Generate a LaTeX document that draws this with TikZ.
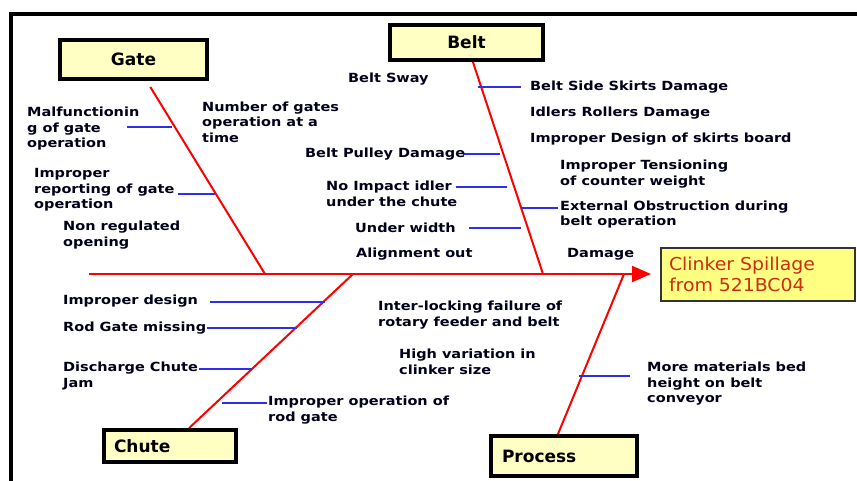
\documentclass[tikz,border=0pt]{standalone}
\usepackage{fontspec}
\setmainfont{DejaVu Sans}
\newfontfamily\causefont{DejaVu Sans}[FakeStretch=1.15]
\newfontfamily\effectfont{DejaVu Sans}[FakeStretch=1.06]
\usetikzlibrary{arrows.meta}
\usetikzlibrary{calc}

\definecolor{boxyellow}{RGB}{255,255,196}
\definecolor{effectyellow}{RGB}{255,255,130}
\definecolor{effectred}{RGB}{205,45,20}
\definecolor{twigblue}{RGB}{45,45,235}

\begin{document}
\begin{tikzpicture} [x=1pt, y=-1pt,
            bone/.style={red, line width=2pt},
            twig/.style={twigblue, line width=1.1pt},
            category/.style={draw=black, line width=4pt, fill=boxyellow,
                 font=\fontsize{17}{20}\selectfont\bfseries, inner sep=0pt},
            cause/.style={font=\causefont\fontsize{12.6}{15.5}\selectfont\bfseries,
                 align=left, anchor=west, inner sep=0pt, text=black!90!blue},
         >=stealth]
\useasboundingbox (0,0) rectangle (857,480);

% frame
\draw[line width=4pt] (11,490) -- (11,14) -- (870,14);

%effect
\node (effect) at (758,274.5) [draw=black!80, line width=2pt, fill=effectyellow,
     text width=178pt, inner xsep=8pt, minimum height=53pt, align=left,
     text=effectred, font=\effectfont\fontsize{17.8}{21}\selectfont]
     {Clinker Spillage\\from 521BC04};
\coordinate (tail) at (89,274);
\draw[bone, -{Triangle[length=19pt,width=16pt]}, shorten >=9pt] (tail) -- (effect.west |- tail);

%categories
\node (gate)    at (133.5,59.5) [category, minimum width=147pt, minimum height=39pt] {Gate};
\node (belt)    at (466.5,42.5) [category, minimum width=153pt, minimum height=35pt] {Belt};
\node (chute)   at (170,446)    [category, text width=112pt, inner xsep=10pt, minimum height=32pt, align=left] {Chute};
\node (process) at (564,456)    [category, text width=124pt, inner xsep=11pt, minimum height=40pt, align=left] {Process};

%bones
\coordinate (gj) at (265,274);
\coordinate (bj) at (543,274);
\coordinate (cj) at (353,274);
\coordinate (pj) at (624,274);
\draw[bone, shorten >=7pt] (gj) -- (gate);
\draw[bone] (bj) -- (belt);
\draw[bone] (cj) -- (chute);
\draw[bone] (pj) -- ([xshift=-6pt]process.north);

%twigs
\foreach \n/\xa/\xb/\y in {g1/127/172/127, g2/178/215/194,
      b1/478/521/87, b2/463/500/154, b3/456/507/187, b4/469/521/228, b5/521/558/208,
      c1/210/325/302, c2/207/297/328, c3/199/252/369, c4/222/267/403,
      p1/579/630/376}
{
   \coordinate (\n a) at (\xa,\y);
   \coordinate (\n b) at (\xb,\y);
   \draw[twig] (\n a) -- (\n b);
}

%Gate causes
\node (malf)   at (27,129)  [cause] {Malfunctionin\\g of gate\\operation};
\node (number) at (202,122) [cause] {Number of gates\\operation at a\\time};
\node (report) at (34,190)  [cause] {Improper\\reporting of gate\\operation};
\node (nonreg) at (63,235)  [cause] {Non regulated\\opening};

%Belt causes
\node (sway)    at (348,79)    [cause] {Belt Sway};
\node (pulley)  at (305,154)   [cause] {Belt Pulley Damage};
\node (impact)  at (326,194)   [cause] {No Impact idler\\under the chute};
\node (width)   at (355,228)   [cause] {Under width};
\node (align)   at (356,254)   [cause] {Alignment out};
\node (damage)  at (567,254)   [cause] {Damage};
\node (skirts)  at (530,87)    [cause] {Belt Side Skirts Damage};
\node (idlers)  at (530,113)   [cause] {Idlers Rollers Damage};
\node (board)   at (530,139)   [cause] {Improper Design of skirts board};
\node (tension) at (560,174)   [cause] {Improper Tensioning\\of counter weight};
\node (obstr)   at (560,214.5) [cause] {External Obstruction during\\belt operation};

%Chute causes
\node (design)  at (63,301)  [cause] {Improper design};
\node (rodgate) at (63,328)  [cause] {Rod Gate missing};
\node (disch)   at (63,376)  [cause] {Discharge Chute\\Jam};
\node (operat)  at (268,410) [cause] {Improper operation of\\rod gate};

%Process causes
\node (inter) at (378,315) [cause] {Inter-locking failure of\\rotary feeder and belt};
\node (high)  at (399,362) [cause] {High variation in\\clinker size};
\node (more)  at (647,384) [cause] {More materials bed\\height on belt\\conveyor};

\end{tikzpicture}
\end{document}
